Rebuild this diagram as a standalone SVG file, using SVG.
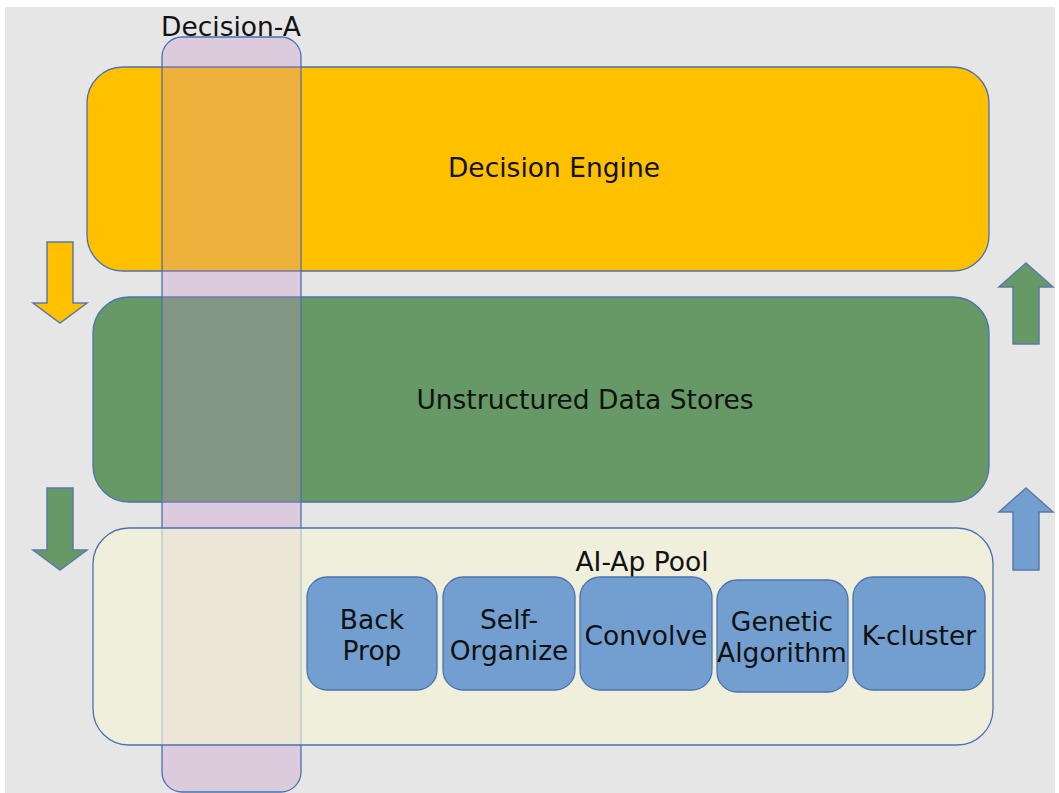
<svg xmlns="http://www.w3.org/2000/svg" width="1059" height="793" viewBox="0 0 1059 793">
<style>
text{font-family:"DejaVu Sans","Verdana",sans-serif;fill:#111;text-anchor:middle;font-size:26.5px}
.panel{stroke:#4a72b0;stroke-width:1.3}
.sub{fill:#729fcf;stroke:#4a72b0;stroke-width:1.3}
.arr{stroke:#5a7aa8;stroke-width:1.5}
</style>
<rect x="0" y="0" width="1059" height="793" fill="#ffffff"/>
<rect x="5" y="7" width="1050" height="786" fill="#e6e6e6"/>
<g id="decision-engine">
<rect class="panel" x="87" y="67" width="902" height="204" rx="36" fill="#ffc000"/>
<text x="554" y="177">Decision Engine</text>
</g>
<g id="unstructured-data-stores">
<rect class="panel" x="93" y="297" width="896" height="205" rx="36" fill="#669966"/>
<text x="585" y="409">Unstructured Data Stores</text>
</g>
<g id="decision-a">
<rect x="162" y="37" width="139" height="755" rx="20" fill="#c890c8" fill-opacity="0.3" stroke="#4a72b0" stroke-width="1.3"/>
<text x="231" y="36">Decision-A</text>
</g>
<g id="ai-ap-pool">
<rect class="panel" x="93" y="528" width="900" height="217" rx="36" fill="#f5f5d6" fill-opacity="0.65"/>
<text x="642" y="571">AI-Ap Pool</text>
</g>
<g id="back-prop">
<rect class="sub" x="307" y="577" width="130" height="113" rx="20"/>
<text x="372" y="629">Back</text>
<text x="372" y="660">Prop</text>
</g>
<g id="self-organize">
<rect class="sub" x="443" y="577" width="132" height="113" rx="20"/>
<text x="509" y="629">Self-</text>
<text x="509" y="660">Organize</text>
</g>
<g id="convolve">
<rect class="sub" x="580" y="577" width="132" height="113" rx="20"/>
<text x="646" y="645">Convolve</text>
</g>
<g id="genetic-algorithm">
<rect class="sub" x="717" y="580" width="131" height="112" rx="20"/>
<text x="782" y="631">Genetic</text>
<text x="782" y="662">Algorithm</text>
</g>
<g id="k-cluster">
<rect class="sub" x="853" y="577" width="132" height="113" rx="20"/>
<text x="919" y="645">K-cluster</text>
</g>
<g id="connectors">
<polygon class="arr" fill="#ffc000" points="47,242 73,242 73,303 87,303 60,323 33,303 47,303"/>
<polygon class="arr" fill="#669966" points="47,488 73,488 73,550 87,550 60,570 33,550 47,550"/>
<polygon class="arr" fill="#669966" points="1013,344 1039,344 1039,287 1053,287 1026,263 999,287 1013,287"/>
<polygon class="arr" fill="#729fcf" points="1013,570 1039,570 1039,512 1053,512 1026,488 999,512 1013,512"/>
</g>
</svg>
